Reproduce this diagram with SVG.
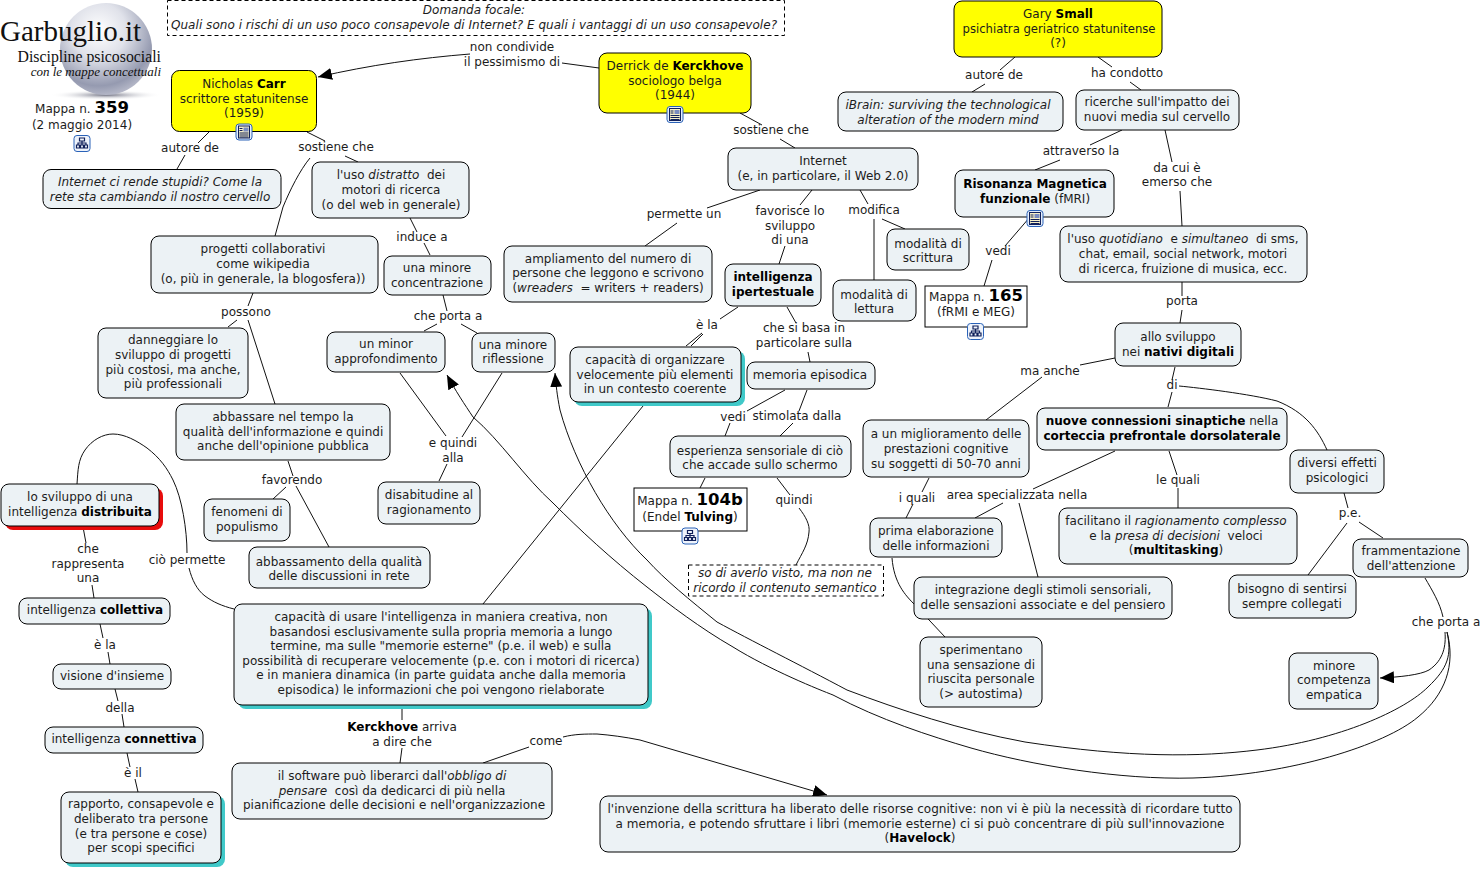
<svg xmlns="http://www.w3.org/2000/svg" width="1484" height="870" viewBox="0 0 1484 870">
<style>
text{font-family:"DejaVu Sans","Verdana",sans-serif;font-size:12px;fill:#1c1c1c;text-anchor:middle;white-space:pre}
.b{font-weight:bold;fill:#000}.i{font-style:italic}
.n{fill:#ecf2f5;stroke:#000;stroke-width:1}
.y{fill:#ffff00;stroke:#000;stroke-width:1}
.w{fill:#fff;stroke:#000;stroke-width:1}
.d{fill:#fff;stroke:#000;stroke-width:1;stroke-dasharray:4 3}
.st{fill:#40c9c9}.sr{fill:#e80c0c}
#connectors path{fill:none;stroke:#111;stroke-width:1}
.big{font-size:16.5px;font-weight:bold;fill:#000}
.serif{font-family:"Liberation Serif",serif;text-anchor:end;fill:#111}
</style>
<defs>
<marker id="arrow" markerUnits="userSpaceOnUse" markerWidth="16" markerHeight="12" refX="14" refY="6" orient="auto"><path d="M0,0 L14,6 L0,12 Z" fill="#000"/></marker>
<radialGradient id="sph" cx="0.42" cy="0.3" r="0.75"><stop offset="0" stop-color="#ffffff"/><stop offset="0.4" stop-color="#e0e2ea"/><stop offset="0.8" stop-color="#959ab0"/><stop offset="1" stop-color="#c0c2d0"/></radialGradient>
<radialGradient id="shd"><stop offset="0" stop-color="#6f7182"/><stop offset="1" stop-color="#ffffff" stop-opacity="0"/></radialGradient>
<g id="ih"><rect x="0.5" y="0.5" width="16" height="16" rx="3" fill="#eef3fb" stroke="#2a62b8"/><path d="M6,3h5v3h-5zM3,10h3v3h-3zM7,10h3v3h-3zM11,10h3v3h-3zM8.5,6v4M4.500,10v-2h8v2" fill="none" stroke="#10205a" stroke-width="1.2"/></g>
<g id="in"><rect x="0.5" y="0.5" width="16" height="16" rx="3" fill="#e6eefa" stroke="#2a62b8"/><rect x="3" y="2.500" width="11" height="12" fill="#f6efc8" stroke="#10205a"/><rect x="8" y="4" width="5" height="4" fill="#7a8cc0"/><path d="M4,5h3M4,7h3M4,9.500h9M4,11.500h9M4,13.500h9" stroke="#10205a" stroke-width="1"/></g>
</defs>
<rect width="1484" height="870" fill="#fff"/>
<g id="logo">
<ellipse cx="106" cy="95" rx="56" ry="5" fill="url(#shd)"/>
<circle cx="106" cy="49" r="46" fill="url(#sph)"/>
<text class="serif" x="141" y="41" style="font-size:29px">Garbuglio.it</text>
<text class="serif" x="161" y="62" style="font-size:15.800px">Discipline psicosociali</text>
<text class="serif i" x="161" y="76" style="font-size:13px">con le mappe concettuali</text>
</g>
<g id="connectors">
<path d="M599,68L562,63"/>
<path d="M470,54C420,58 370,65 318,77" marker-end="url(#arrow)"/>
<path d="M209,132L198,143M185,155L177,169"/>
<path d="M307,132L325,141M345,156L358,162"/>
<path d="M310,158C300,170 290,190 283,207L275,236"/>
<path d="M410,218L417,232M424,243L430,255"/>
<path d="M443,295L447,311M437,324L424,331M461,324L477,333"/>
<path d="M400,373L446,436M502,373L462,437M447,464L439,481"/>
<path d="M740,113L762,125M780,139L795,148"/>
<path d="M760,190L707,208M677,223L645,246"/>
<path d="M812,190L800,205M785,246L779,264"/>
<path d="M860,190L868,204M882,219L905,229M874,219L874,280"/>
<path d="M1015,57L1000,70M985,84L972,92"/>
<path d="M1098,57L1112,67M1130,82L1141,90"/>
<path d="M1122,130L1090,145M1060,160L1035,170"/>
<path d="M1165,130L1172,162M1180,191L1182,226"/>
<path d="M1030,217L1005,246M992,260L984,286"/>
<path d="M1182,282L1182,296M1182,310L1180,323"/>
<path d="M1115,358L1080,365M1042,377L986,420"/>
<path d="M1175,367L1172,380M1172,392L1168,407"/>
<path d="M1179,386C1200,388 1250,394 1277,401C1305,412 1318,430 1327,450"/>
<path d="M1115,451L1033,489M1003,503L975,518M1019,503L1038,577"/>
<path d="M1169,451L1177,475M1178,488L1178,508"/>
<path d="M929,478L922,492M913,504L906,518"/>
<path d="M892,558C894,583 905,595 915,605L945,637"/>
<path d="M1344,493L1348,508M1347,523L1308,575M1359,522L1383,538"/>
<path d="M1425,578C1432,590 1440,603 1443,617"/>
<path d="M1445,632C1446,645 1444,660 1429,670C1420,675 1400,677 1380,678" marker-end="url(#arrow)"/>
<path d="M1447,632C1452,655 1448,668 1428,687C1405,710 1340,740 1257,750C1200,757 1130,758 1025,742C960,730 900,710 847,690C800,665 750,640 717,622C690,600 665,580 647,560C610,525 575,465 560,410C557,395 556,385 555,373" marker-end="url(#arrow)"/>
<path d="M1447,632C1456,665 1445,695 1418,717C1385,745 1290,775 1193,778C1120,780 1030,765 971,748C930,736 880,720 833,695C820,690 770,670 733,647C700,628 670,605 647,587C610,558 580,530 553,503C525,478 500,440 473,417C465,405 455,390 447,375" marker-end="url(#arrow)"/>
<path d="M738,307L720,319M702,333L686,346M703,334L691,346"/>
<path d="M643,406L483,604"/>
<path d="M787,307L796,323M808,352L810,362"/>
<path d="M785,390L747,411M730,423L725,436"/>
<path d="M807,390L799,411M793,423L780,436"/>
<path d="M705,478L700,488"/>
<path d="M777,478L790,495M799,508C806,517 810,525 809,532C808,545 802,553 796,565"/>
<path d="M253,293L248,306M237,320L228,327M248,320L275,404"/>
<path d="M288,461L293,476M286,487L273,499M296,486L329,547"/>
<path d="M77,484C78,470 78,460 85,450C92,440 103,434 113,434C125,434 137,441 147,448C160,458 167,468 173,480C182,498 187,530 187,553M189,568C192,580 197,590 205,596C213,602 222,606 234,609"/>
<path d="M83,527L86,543M92,585L94,598"/>
<path d="M100,624L103,638M108,652L110,664"/>
<path d="M115,689L118,701M122,714L124,727"/>
<path d="M127,753L130,767M135,779L138,792"/>
<path d="M402,705L402,720M402,748L400,763"/>
<path d="M483,763L529,747M563,737C575,734 585,734 597,734C610,735 625,737 640,740L827,795" marker-end="url(#arrow)"/>
</g>
<g id="labels">
<text x="512" y="51">non condivide</text><text x="512" y="66">il pessimismo di</text>
<text x="190" y="152">autore de</text>
<text x="336" y="151">sostiene che</text>
<text x="422" y="241">induce a</text>
<text x="448" y="320">che porta a</text>
<text x="453" y="447">e quindi</text><text x="453" y="462">alla</text>
<text x="771" y="134">sostiene che</text>
<text x="684" y="218">permette un</text>
<text x="790" y="215">favorisce lo</text><text x="790" y="230">sviluppo</text><text x="790" y="244">di una</text>
<text x="874" y="214">modifica</text>
<text x="994" y="79">autore de</text>
<text x="1127" y="77">ha condotto</text>
<text x="1081" y="155">attraverso la</text>
<text x="1177" y="172">da cui è</text><text x="1177" y="186">emerso che</text>
<text x="998" y="255">vedi</text>
<text x="1182" y="305">porta</text>
<text x="1050" y="375">ma anche</text>
<text x="1172" y="389">di</text>
<text x="1178" y="484">le quali</text>
<text x="917" y="502">i quali</text>
<text x="1017" y="499">area specializzata nella</text>
<text x="1350" y="517">p.e.</text>
<text x="1446" y="626">che porta a</text>
<text x="707" y="329">è la</text>
<text x="804" y="332">che si basa in</text><text x="804" y="347">particolare sulla</text>
<text x="733" y="421">vedi</text>
<text x="797" y="420">stimolata dalla</text>
<text x="794" y="504">quindi</text>
<text x="246" y="316">possono</text>
<text x="292" y="484">favorendo</text>
<text x="187" y="564">ciò permette</text>
<text x="88" y="553">che</text><text x="88" y="568">rappresenta</text><text x="88" y="582">una</text>
<text x="105" y="649">è la</text>
<text x="120" y="712">della</text>
<text x="133" y="777">è il</text>
<text x="402" y="731"><tspan class="b">Kerckhove</tspan> arriva</text><text x="402" y="746">a dire che</text>
<text x="546" y="745">come</text>
</g>
<g id="focale"><rect class="d" x="167.500" y="0.500" width="617" height="35"/><text class="i" x="474" y="14">Domanda focale:</text><text class="i" x="474" y="29" textLength="606">Quali sono i rischi di un uso poco consapevole di Internet? E quali i vantaggi di un uso consapevole?</text></g>
<g id="mappa359"><text x="82" y="113">Mappa n. <tspan class="big">359</tspan></text><text x="82" y="129">(2 maggio 2014)</text><use href="#ih" x="73.500" y="135"/></g>
<g id="small"><rect class="y" x="954" y="1" width="208" height="56" rx="8"/><text x="1058" y="18">Gary <tspan class="b">Small</tspan></text><text x="1059" y="33" textLength="193" lengthAdjust="spacingAndGlyphs">psichiatra geriatrico statunitense</text><text x="1058" y="47">(?)</text></g>
<g id="kerckhove"><rect class="y" x="599" y="53" width="152" height="60" rx="8"/><text x="675" y="70">Derrick de <tspan class="b">Kerckhove</tspan></text><text x="675" y="85">sociologo belga</text><text x="675" y="99">(1944)</text><use href="#in" x="666.500" y="106"/></g>
<g id="carr"><rect class="y" x="171.500" y="70.500" width="145" height="61" rx="8"/><text x="244" y="88">Nicholas <tspan class="b">Carr</tspan></text><text x="244" y="103">scrittore statunitense</text><text x="244" y="117">(1959)</text><use href="#in" x="235.500" y="123.500"/></g>
<g id="n1"><rect class="n" x="43" y="169.500" width="238" height="39" rx="8"/><text class="i" x="160" y="186">Internet ci rende stupidi? Come la</text><text class="i" x="160" y="201">rete sta cambiando il nostro cervello</text></g>
<g id="n2"><rect class="n" x="838" y="92" width="225" height="39" rx="8"/><text class="i" x="948" y="109">iBrain: surviving the technological</text><text class="i" x="948" y="124">alteration of the modern mind</text></g>
<g id="n3"><rect class="n" x="1076" y="90" width="163" height="40" rx="8"/><text x="1157" y="106">ricerche sull'impatto dei</text><text x="1157" y="121">nuovi media sul cervello</text></g>
<g id="n4"><rect class="n" x="728" y="148" width="190" height="42" rx="8"/><text x="823" y="165">Internet</text><text x="823" y="180">(e, in particolare, il Web 2.0)</text></g>
<g id="n5"><rect class="n" x="955" y="170" width="159" height="47" rx="8"/><text class="b" x="1035" y="188">Risonanza Magnetica</text><text x="1035" y="203"><tspan class="b">funzionale</tspan> (fMRI)</text><use href="#in" x="1026.500" y="210"/></g>
<g id="n6"><rect class="n" x="312" y="162" width="157" height="56" rx="8"/><text x="391" y="179">l'uso <tspan class="i">distratto</tspan>  dei</text><text x="391" y="194">motori di ricerca</text><text x="391" y="209">(o del web in generale)</text></g>
<g id="n7"><rect class="n" x="151" y="236" width="227" height="57" rx="8"/><text x="263" y="253">progetti collaborativi</text><text x="263" y="268">come wikipedia</text><text x="263" y="283">(o, più in generale, la blogosfera))</text></g>
<g id="n8"><rect class="n" x="504" y="246" width="208" height="56" rx="8"/><text x="608" y="263">ampliamento del numero di</text><text x="608" y="277">persone che leggono e scrivono</text><text x="608" y="292">(<tspan class="i">wreaders</tspan>  = writers + readers)</text></g>
<g id="n9"><rect class="n" x="725" y="264" width="96" height="42" rx="8"/><text class="b" x="773" y="281">intelligenza</text><text class="b" x="773" y="296">ipertestuale</text></g>
<g id="n10"><rect class="n" x="887" y="229" width="82" height="41" rx="8"/><text x="928" y="248">modalità di</text><text x="928" y="262">scrittura</text></g>
<g id="n11"><rect class="n" x="833" y="280" width="83" height="41" rx="8"/><text x="874" y="299">modalità di</text><text x="874" y="313">lettura</text></g>
<g id="m165"><rect class="w" x="925" y="286" width="102" height="41"/><text x="976" y="301">Mappa n. <tspan class="big">165</tspan></text><text x="976" y="316">(fRMI e MEG)</text><use href="#ih" x="967" y="323"/></g>
<g id="n12"><rect class="n" x="1060" y="226" width="247" height="56" rx="8"/><text x="1183" y="243">l'uso <tspan class="i">quotidiano</tspan>  e <tspan class="i">simultaneo</tspan>  di sms,</text><text x="1183" y="258">chat, email, social network, motori</text><text x="1183" y="273">di ricerca, fruizione di musica, ecc.</text></g>
<g id="n13"><rect class="n" x="384" y="256" width="107" height="39" rx="8"/><text x="437" y="272">una minore</text><text x="437" y="287">concentrazione</text></g>
<g id="n14"><rect class="n" x="327" y="332" width="118" height="40" rx="8"/><text x="386" y="348">un minor</text><text x="386" y="363">approfondimento</text></g>
<g id="n15"><rect class="n" x="472" y="333" width="83" height="39" rx="8"/><text x="513" y="349">una minore</text><text x="513" y="363">riflessione</text></g>
<g id="n16"><rect class="st" x="574" y="351" width="171" height="55" rx="8"/><rect class="n" x="570" y="347" width="171" height="55" rx="8"/><text x="655" y="364">capacità di organizzare</text><text x="655" y="379">velocemente più elementi</text><text x="655" y="393">in un contesto coerente</text></g>
<g id="n17"><rect class="n" x="747" y="362" width="128" height="27" rx="8"/><text x="810" y="379">memoria episodica</text></g>
<g id="n18"><rect class="n" x="98" y="328" width="150" height="70" rx="8"/><text x="173" y="344">danneggiare lo</text><text x="173" y="359">sviluppo di progetti</text><text x="173" y="374">più costosi, ma anche,</text><text x="173" y="388">più professionali</text></g>
<g id="n19"><rect class="n" x="176" y="404" width="214" height="56" rx="8"/><text x="283" y="421">abbassare nel tempo la</text><text x="283" y="436">qualità dell'informazione e quindi</text><text x="283" y="450">anche dell'opinione pubblica</text></g>
<g id="n20"><rect class="n" x="1115" y="323" width="126" height="43" rx="8"/><text x="1178" y="341">allo sviluppo</text><text x="1178" y="356">nei <tspan class="b">nativi digitali</tspan></text></g>
<g id="n21"><rect class="n" x="863" y="420" width="166" height="57" rx="8"/><text x="946" y="438">a un miglioramento delle</text><text x="946" y="453">prestazioni cognitive</text><text x="946" y="468">su soggetti di 50-70 anni</text></g>
<g id="n22"><rect class="n" x="1037" y="408" width="250" height="42" rx="8"/><text x="1162" y="425"><tspan class="b">nuove connessioni sinaptiche</tspan> nella</text><text class="b" x="1162" y="440">corteccia prefrontale dorsolaterale</text></g>
<g id="n23"><rect class="n" x="1290" y="450" width="94" height="43" rx="8"/><text x="1337" y="467">diversi effetti</text><text x="1337" y="482">psicologici</text></g>
<g id="n24"><rect class="n" x="670" y="436" width="181" height="41" rx="8"/><text x="760" y="455">esperienza sensoriale di ciò</text><text x="760" y="469">che accade sullo schermo</text></g>
<g id="m104"><rect class="w" x="634" y="488" width="113" height="43"/><text x="690" y="505">Mappa n. <tspan class="big">104b</tspan></text><text x="690" y="521">(Endel <tspan class="b">Tulving</tspan>)</text><use href="#ih" x="681.500" y="527.500"/></g>
<g id="n25"><rect class="n" x="378" y="482" width="102" height="42" rx="8"/><text x="429" y="499">disabitudine al</text><text x="429" y="514">ragionamento</text></g>
<g id="n26"><rect class="n" x="204" y="499" width="86" height="42" rx="8"/><text x="247" y="516">fenomeni di</text><text x="247" y="531">populismo</text></g>
<g id="n27"><rect class="n" x="249" y="547" width="181" height="41" rx="8"/><text x="339" y="566">abbassamento della qualità</text><text x="339" y="580">delle discussioni in rete</text></g>
<g id="n28"><rect class="sr" x="5" y="488" width="158" height="42" rx="8"/><rect class="n" x="1" y="484" width="158" height="42" rx="8"/><text x="80" y="501">lo sviluppo di una</text><text x="80" y="516">intelligenza <tspan class="b">distribuita</tspan></text></g>
<g id="n29"><rect class="n" x="870" y="518" width="132" height="39" rx="8"/><text x="936" y="535">prima elaborazione</text><text x="936" y="550">delle informazioni</text></g>
<g id="n30"><rect class="n" x="1059" y="508" width="238" height="56" rx="8"/><text x="1176" y="525">facilitano il <tspan class="i">ragionamento complesso</tspan></text><text x="1176" y="540">e la <tspan class="i">presa di decisioni</tspan>  veloci</text><text x="1176" y="554">(<tspan class="b">multitasking</tspan>)</text></g>
<g id="n31"><rect class="n" x="1353" y="539" width="115" height="38" rx="8"/><text x="1411" y="555">frammentazione</text><text x="1411" y="570">dell'attenzione</text></g>
<g id="n32"><rect class="n" x="1229" y="575" width="127" height="43" rx="8"/><text x="1292" y="593">bisogno di sentirsi</text><text x="1292" y="608">sempre collegati</text></g>
<g id="n33"><rect class="n" x="914" y="577" width="258" height="42" rx="8"/><text x="1043" y="594">integrazione degli stimoli sensoriali,</text><text x="1043" y="609">delle sensazioni associate e del pensiero</text></g>
<g id="n34"><rect class="d" x="688.500" y="565" width="195" height="31"/><text class="i" x="785" y="577">so di averlo visto, ma non ne</text><text class="i" x="785" y="592">ricordo il contenuto semantico</text></g>
<g id="n35"><rect class="n" x="19" y="598" width="151" height="26" rx="8"/><text x="95" y="614">intelligenza <tspan class="b">collettiva</tspan></text></g>
<g id="n36"><rect class="st" x="238" y="608" width="414" height="101" rx="8"/><rect class="n" x="234" y="604" width="414" height="101" rx="8"/><text x="441" y="621">capacità di usare l'intelligenza in maniera creativa, non</text><text x="441" y="636">basandosi esclusivamente sulla propria memoria a lungo</text><text x="441" y="650">termine, ma sulle "memorie esterne" (p.e. il web) e sulla</text><text x="441" y="665">possibilità di recuperare velocemente (p.e. con i motori di ricerca)</text><text x="441" y="679">e in maniera dinamica (in parte guidata anche dalla memoria</text><text x="441" y="694">episodica) le informazioni che poi vengono rielaborate</text></g>
<g id="n37"><rect class="n" x="920" y="637" width="122" height="70" rx="8"/><text x="981" y="654">sperimentano</text><text x="981" y="669">una sensazione di</text><text x="981" y="683">riuscita personale</text><text x="981" y="698">(&gt; autostima)</text></g>
<g id="n38"><rect class="n" x="1289" y="653" width="89" height="56" rx="8"/><text x="1334" y="670">minore</text><text x="1334" y="684">competenza</text><text x="1334" y="699">empatica</text></g>
<g id="n39"><rect class="n" x="53" y="664" width="118" height="25" rx="8"/><text x="112" y="680">visione d'insieme</text></g>
<g id="n40"><rect class="n" x="45" y="727" width="158" height="26" rx="8"/><text x="124" y="743">intelligenza <tspan class="b">connettiva</tspan></text></g>
<g id="n41"><rect class="n" x="232" y="763" width="320" height="56" rx="8"/><text x="392" y="780">il software può liberarci dall'<tspan class="i">obbligo di</tspan></text><text x="392" y="795"><tspan class="i">pensare</tspan>  così da dedicarci di più nella</text><text x="394" y="809">pianificazione delle decisioni e nell'organizzazione</text></g>
<g id="n42"><rect class="st" x="65" y="796" width="160" height="71" rx="8"/><rect class="n" x="61" y="792" width="160" height="71" rx="8"/><text x="141" y="808">rapporto, consapevole e</text><text x="141" y="823">deliberato tra persone</text><text x="141" y="838">(e tra persone e cose)</text><text x="141" y="852">per scopi specifici</text></g>
<g id="n43"><rect class="n" x="600" y="796" width="640" height="56" rx="8"/><text x="920" y="813" textLength="625">l'invenzione della scrittura ha liberato delle risorse cognitive: non vi è più la necessità di ricordare tutto</text><text x="920" y="828" textLength="609">a memoria, e potendo sfruttare i libri (memorie esterne) ci si può concentrare di più sull'innovazione</text><text x="920" y="842">(<tspan class="b">Havelock</tspan>)</text></g>
</svg>
